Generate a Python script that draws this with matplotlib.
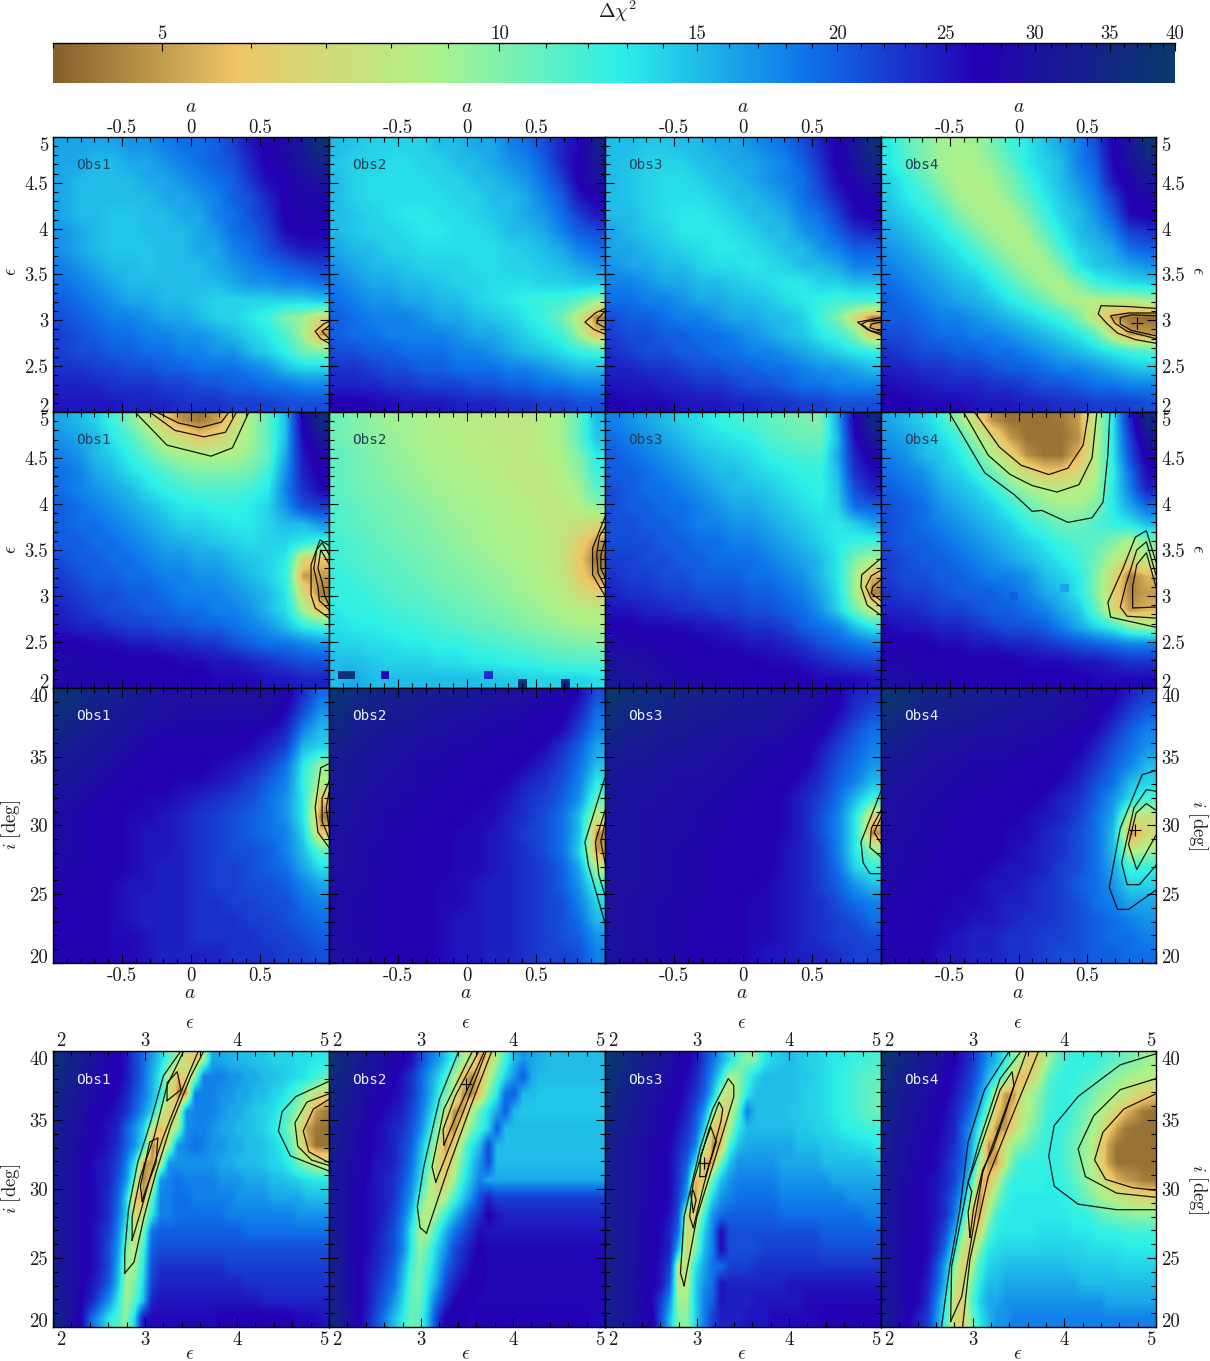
import numpy as np
import matplotlib
matplotlib.use("Agg")
import matplotlib.pyplot as plt
from matplotlib.colors import LinearSegmentedColormap, LogNorm
from matplotlib.cm import ScalarMappable
from matplotlib.ticker import FixedLocator, NullFormatter
import logging
logging.getLogger("matplotlib.mathtext").setLevel(logging.ERROR)

plt.rcParams['mathtext.fontset'] = 'cm'
plt.rcParams['axes.unicode_minus'] = False
plt.rcParams['axes.formatter.use_mathtext'] = True

# Delta chi2, rows from top of panel to bottom
# row 1: a vs epsilon
r1_obs1 = [[16,16,16,16,17,17,18,19,19,20,22,25,27,29,32,37],
[16,16,15,15,16,16,17,18,19,20,21,24,27,28,31,34],
[16,15,15,15,15,16,16,17,18,19,20,23,26,27,29,31],
[16,15,15,15,15,15,16,16,17,18,20,21,24,27,28,28],
[16,15,15,14.5,14.5,15,15,16,16,18,19,21,23,27,28,28],
[17,16,15,14.5,14.5,15,15,15,16,17,19,20,22,26,27,27],
[17,16,15,14.5,14.5,14.5,15,15,16,16,18,19,21,23,25,25],
[18,17,16,15,15,14.5,15,15,15,16,17,18,19,20,21,22],
[19,18,17,16,15,15,15,15,15,15,16,17,17,18,18,19],
[20,19,18,17,16,16,15,15,14.5,14,14,14,14,14,14,14.5],
[21,20,19,18,18,17,16,16,15,14,14,13,12,10,9,7],
[22,21,20,19,19,18,18,17,17,16,15,14,13,11.5,9,5],
[22,21,21,20,20,19,19,18,18,17,17,15,14,12.5,10.5,10],
[23,23,22,22,21,21,20,20,19,19,19,18,17,15,14,14],
[24,24,24,23,23,23,22,22,21,21,20,20,19,19,18,18],
[25,25,25,25,24,24,24,23,23,23,22,22,22,21,21,21]]
r1_obs2 = [[15,14.5,14,14,14,14,15,15,16,16,18,19,21,24,26,33],
[14.5,14,14,13.5,13.5,14,14,15,15,16,17,18,20,24,27,31],
[15,14,13.5,13.5,13.5,13.5,14,14,15,15,16,17,19,22,27,30],
[15,14,13.5,13.5,13.5,13.5,13.5,14,14,15,15,16,18,20,25,27],
[15,14.5,14,13.5,13,13,13.5,13.5,14,14.5,15,16,17,19,22,25],
[15,14.5,14,14,13.5,13,13,13.5,13.5,14,15,15,16,18,20,21],
[16,15,15,14,14,13.5,13.5,13.5,13.5,13.5,14,14.5,15,16,18,19],
[17,16,15,15,14.5,14,14,14,13.5,13.5,14,14,14.5,15,16,17],
[18,17,16,16,15,15,14.5,14,14,13.5,13.5,13.5,14,14,14.5,14.5],
[19,18,17,17,16,16,15,15,14,13.5,13,12.5,12,12,11,9.5],
[20,19,18,18,18,17,16,16,15,14.5,14,13,12,10.5,8,4.5],
[20,19,19,18,18,18,18,17,16,16,15,14,13,12,9,6],
[21,21,20,20,19,19,19,18,18,17,16,15,14.5,13.5,12.5,12],
[23,23,22,21,21,20,20,19,19,19,18,18,17,16,15,15],
[24,24,24,23,23,22,22,22,21,21,20,20,19,19,18,18],
[27,27,26,26,25,25,25,24,24,24,23,23,22,22,21,21]]
r1_obs3 = [[15,15,14.5,14.5,15,15,16,16,17,18,19,21,24,27,31,37],
[15,14.5,14,14,14,15,15,16,16,17,18,20,23,27,30,34],
[15,14.5,14,13.5,13.5,14,15,15,16,17,18,19,22,26,28,31],
[15,14.5,14,13.5,13.5,13.5,14,15,15,16,17,19,21,24,27,28],
[15,15,14,13.5,13,13,13.5,14,15,15,16,18,19,22,26,27],
[16,15,14.5,14,13,13,13,13.5,14,15,15,17,18,20,23,24],
[16,16,15,14.5,14,13.5,13,13,13.5,14,15,15,17,18,20,20],
[17,16,16,15,15,14,13.5,13.5,13,13.5,14,15,15,16,18,18],
[18,18,17,16,16,15,15,14.5,14,13.5,13,13,14,14,15,15],
[19,19,18,18,17,16,16,15,15,14.5,13.5,13,12.5,12,12,12],
[21,20,20,19,18,18,17,16,16,15,15,14,12,10,7,4.5],
[22,21,21,20,20,19,19,18,17,16,15,14.5,13,12,10,6],
[23,22,21,21,20,20,19,19,18,18,17,16,15,14,13,12.5],
[24,24,23,23,22,21,21,20,20,19,19,18,17,17,16,15],
[25,25,25,24,24,23,23,22,21,21,20,19,19,18,18,18],
[27,26,26,26,25,25,25,24,24,23,23,22,22,21,21,21]]
r1_obs4 = [[13,11,10,9,8.8,9,10,12,13,14.5,16,18,21,27,31,37],
[13,11.5,10,9,8.7,8.8,9.5,11,13,14,15,18,20,26,30,34],
[14,12.5,11,9.5,8.7,8.5,9,10,12,13.5,15,17,19,25,28,31],
[14.5,13,12,10.5,9,8.5,8.5,9.5,11,13,14.5,16,18,22,27,28],
[15,14,13,12,10,9,8.5,8.7,10,12,14,15,17,20,26,27],
[16,15,14,13,11.5,10,9,8.5,9,11,13,15,16,18,22,23],
[17,16,15,14,13,11.5,10,9,8.7,9.5,12,14,15,16,19,20],
[18,17,16,15,14,13,11.5,10,9,8.8,10,13,14.5,15,16,17],
[19,18,17,16,15,14.5,13,11.5,10,9,8.7,10,12,13,13.5,14],
[20,19,18,17,16,15.5,14.5,13,12,10.5,9,8.7,8.5,8.5,8.5,9],
[20,20,19,18,18,17,16,15,14,13,12,10,7.5,5,4.3,4.2],
[21,21,20,19,19,18,18,17,16,15,14,13,11,7.5,5,5],
[23,22,21,21,20,20,19,19,18,17,16,15,14,13,12,11.5],
[24,24,23,23,22,22,21,20,20,19,18,18,17,16,15,14.5],
[26,25,25,24,24,24,23,23,22,21,21,20,19,19,18,18],
[27,27,26,26,26,25,25,25,24,24,23,23,22,22,22,21]]

# row 2: a vs epsilon
r2_obs1 = [[16,15,14,12,10,8,6,4.8,4.4,5,6.5,9,11,15,27,36],
[17,16,15,13,11.5,9.5,8,7,6,6.5,8,9,11,15,26,31],
[18,17,15,14,12.5,11,9.5,9,8.5,8.5,8.7,9.5,11,16,25,28],
[19,18,16,15,13.5,12.5,11.5,10.5,10,10,10,10.5,12,17,24,27],
[19,18,17,16,15,13.5,12.5,12,11.5,11.5,11.5,12,13,18,23,26],
[20,19,18,17,16,15,14,13,13,12.5,12.5,13,14,17,21,22],
[20,19,19,18,17,16,15,14,14,13.5,13,13,14,15,15,17],
[20,20,19,19,18,17,16,15.5,15,14.5,14,13.5,14,14,13,12],
[21,20,20,19,19,18,17,17,16,16,15,14.5,14,13,7,6],
[22,21,20,20,19,19,18,18,17,17,16,15,14,12.5,5,5],
[23,22,21,21,20,20,19,18,18,18,17,16,15,13,7,4.5],
[24,23,22,21,21,20,20,19,19,18,18,17,15,13.5,9,6],
[25,24,24,23,22,22,21,21,20,20,19,18,17,15,13,12],
[27,27,26,26,25,25,24,24,23,23,21,20,19,19,18,17],
[29,28,28,27,27,27,27,26,26,25,25,24,23,22,21,21],
[28,28,28,28,27,27,27,27,27,26,26,26,25,25,24,24]]
r2_obs2 = [[10.5,10,9.5,9,9,8.7,8.5,8.3,8.2,8,8,8,8.3,9,11,15],
[10.5,10,9.5,9.3,9,8.8,8.5,8.4,8.2,8,8,8,8.3,9,11,14.5],
[11,10.5,10,9.5,9.2,8.9,8.7,8.5,8.3,8.2,8,8,8.2,8.8,10,13],
[11,10.5,10,9.7,9.4,9,8.9,8.7,8.5,8.3,8,8,8,8.5,9.5,12],
[11,10.5,10.2,10,9.6,9.3,9,8.9,8.7,8.5,8.3,8,8,8.2,9,11],
[11.5,11,10.5,10.2,10,9.6,9.3,9,8.9,8.7,8.5,8.3,8,8,8.5,9.5],
[11.5,11,10.7,10.4,10,9.9,9.5,9.2,9,8.8,8.6,8.4,8.1,7.8,7.5,7],
[12,11.5,11,10.6,10.3,10,9.8,9.4,9.1,8.9,8.7,8.5,8.2,7.7,6.5,5],
[12,11.5,11.2,11,10.6,10.3,10,9.7,9.4,9.1,8.9,8.6,8.2,7.6,6,4.3],
[12.5,12,11.5,11.2,11,10.5,10.2,10,9.7,9.4,9.1,8.8,8.4,7.8,6.3,5],
[12.5,12.5,12,11.5,11.2,11,10.6,10.3,10,9.7,9.3,9,8.7,8.2,7.3,6.5],
[13,12.5,12.5,12,11.7,11.5,11,10.7,10.4,10.1,9.8,9.4,9,8.6,8.3,8],
[13.5,13,13,12.5,12.5,12,11.7,11.4,11,10.8,10.4,10,9.7,9.3,9,8.8],
[14,14,13.5,13.5,13,13,12.5,12.5,12,11.7,11.4,11,10.7,10.4,10.2,10],
[15,15,14.5,14,14,14,13.5,13.5,13,13,12.5,12.5,12,11.7,11.5,11.5],
[15,16,15,15,15,15,15,15,15,14.5,14.5,14,14,14,14,13.5]]
r2_obs3 = [[18,17,16,15,14,13.5,12.5,12,11.5,11,10.5,10.2,10,16,27,35],
[19,18,17,16,15,14,13.5,13,12.5,11.5,11,10.7,10.5,15,26,31],
[20,19,18,17,16,15,14.5,14,13.5,12.5,12,11.7,11.5,16,24,28],
[20,20,19,18,17,16,15,15,14,13.5,13,12.5,12.5,15,23,26],
[21,20,19,19,18,17,16,15,15,14.5,13.5,13,12.5,14.5,21,24],
[21,20,20,19,19,18,17,16,16,15,14.5,13.5,13,14,19,20],
[21,21,20,20,19,18,18,17,17,16,15,14.5,13.5,13,14,16],
[21,21,21,20,20,19,19,18,18,17,16,15,14,13,12.5,12],
[22,22,21,21,20,20,19,19,19,18,17,16,15,13,10,9],
[23,22,22,21,21,20,20,20,19,19,18,17,15,13,9,5.5],
[24,23,23,22,22,21,21,21,20,20,19,18,16,13.5,9,4.5],
[25,25,24,24,23,23,22,22,21,21,20,19,17,14,10.5,8],
[27,27,26,26,26,25,25,24,23,23,22,20,19,18,15,13],
[29,28,28,27,27,27,26,26,25,25,24,23,21,20,19,18],
[30,30,29,28,28,27,27,27,27,26,26,25,24,23,22,22],
[31,30,30,29,28,28,28,27,27,27,27,27,26,26,26,25]]
r2_obs4 = [[16,15,14,12.5,9.5,7,4.8,4.3,4.3,4.3,4.4,5,8.3,13,24,35],
[17,16,15,13.5,12,9,7,5,4.3,4.3,4.3,4.8,8,13,22,31],
[18,17,15,14.5,13,11,8.5,6.5,4.8,4.3,4.3,5.5,8.3,13,21,28],
[19,18,17,15,14,12.5,10.5,8.5,7,6,6,7,8.5,12.5,19,26],
[20,19,18,16,15,14,12.5,10.5,9,8.5,8.3,8.3,9,13,18,24],
[21,20,19,17,16,15,14,12.5,11,9.5,9,9,10,13,16,19],
[21,20,19,18,17,16,15,14,12.5,11.5,10.5,10.5,11.5,12.5,13,15],
[21,20,20,19,18,17,16,15,14,13,12,11.5,11,10,8.5,10],
[22,21,20,20,19,18,17,16,15,14,13,12,10.5,8.5,7,8.5],
[22,21,21,20,20,19,18,18,17,15,14,13,10,7,4.5,5.5],
[23,22,22,21,20,20,20,19,18,16,15,13,10,6.5,4.6,5],
[24,24,23,22,22,21,20,20,19,18,16,14.5,11,7,5,5.5],
[26,25,25,24,24,23,22,21,21,20,18,16,14,12.5,10,9],
[27,27,27,26,26,25,25,24,24,23,22,21,20,19,18,18],
[28,28,27,27,27,27,27,27,26,26,26,25,25,24,23,23],
[30,29,28,28,27,27,27,27,27,27,27,27,26,26,26,26]]

# row 3: a vs i
r3_obs1 = [[38,36,34,33,32,31,30,30,30,30,30,30,30,28,23,19],
[36,35,33,32,31,30,30,29,29,29,29,29,29,26,21,17],
[35,33,32,31,30,29,28,28,28,28,28,27,26,24,18,15],
[33,32,31,30,29,28,27,27,27,27,27,26,24,22,15,14],
[32,31,30,29,28,27,27,27,27,26,25,24,22,19,13,9.5],
[31,30,29,28,27,27,27,26,26,25,24,22,20,18,12.5,8.5],
[30,29,28,27,27,26,26,25,24,23,22,21,19,17,13,6],
[29,28,27,27,26,26,25,24,23,22,21,20,19,17,13,4.5],
[29,28,27,27,26,25,25,24,23,22,21,20,19,18,14,6],
[29,28,27,27,26,25,25,24,23,22,21,21,20,18,15,11],
[28,28,27,27,26,25,24,24,23,22,22,21,20,19,16,13.5],
[28,27,27,26,25,25,24,24,23,22,22,21,21,20,18,16],
[27,27,27,26,25,24,24,24,23,23,22,22,21,21,19,18],
[27,27,27,26,25,24,24,24,23,23,23,22,22,21,20,19],
[27,27,27,26,26,25,24,24,23,23,23,23,22,22,21,20],
[28,27,27,26,26,25,24,24,24,24,23,23,23,22,22,21]]
r3_obs2 = [[38,36,35,33,33,32,32,32,31,30,30,30,29,28,26,21],
[36,34,33,32,32,31,30,30,30,29,29,28,27,27,24,19],
[35,33,32,31,31,30,30,29,29,28,28,27,27,26,22,18],
[33,32,31,30,30,29,29,28,28,27,27,27,26,23,20,16],
[32,31,30,30,29,28,28,28,27,27,27,26,24,22,19,15],
[32,31,30,29,29,28,28,27,27,27,26,24,23,21,18,13],
[31,30,29,29,28,28,27,27,27,26,25,23,22,20,17,11],
[31,30,29,28,28,27,27,27,26,26,24,23,21,19,15,8],
[30,29,29,28,27,27,27,26,26,25,24,22,21,19,15,4.8],
[30,29,28,28,27,27,27,26,26,25,24,23,21,19,14,5],
[30,29,28,28,27,27,27,26,26,25,24,23,22,20,16,8.5],
[29,29,28,27,27,27,26,26,25,24,24,23,22,20,17,12],
[29,28,28,27,27,27,26,26,25,24,24,23,22,21,18,14],
[29,28,28,27,27,27,26,25,25,24,24,23,22,21,19,15],
[29,28,28,27,27,27,26,25,25,24,24,23,22,21,20,17],
[30,29,28,27,27,27,26,25,25,24,24,23,22,22,21,18]]
r3_obs3 = [[39,37,36,35,34,33,33,32,32,31,31,30,29,27,24,23],
[37,35,34,33,33,32,32,31,31,30,30,29,28,26,23,21],
[35,33,33,32,32,31,31,30,30,30,29,28,27,24,21,19],
[33,32,32,31,31,30,30,29,29,28,28,27,25,22,20,18],
[32,31,31,30,30,30,29,29,28,28,27,27,24,21,19,17],
[31,30,30,30,29,29,29,28,28,27,27,25,23,20,18,15],
[31,30,30,29,29,29,28,28,27,27,26,24,22,19,15,12],
[30,30,29,29,29,28,28,27,27,27,26,24,21,18,13,6.5],
[30,30,29,29,29,28,28,27,27,27,26,24,21,18,13,4.7],
[30,30,29,29,28,28,27,27,27,27,25,24,22,18,13,9.5],
[30,30,29,29,28,28,27,27,27,27,25,24,22,19,14,12.5],
[30,30,29,29,28,28,27,27,27,26,25,24,22,20,17,15],
[30,29,29,28,28,28,27,27,26,26,25,24,23,21,19,18],
[30,29,29,28,28,27,27,27,26,26,25,24,23,22,21,19],
[30,29,29,28,28,27,27,27,26,26,25,24,23,22,22,21],
[30,29,29,28,28,27,27,27,26,25,25,24,24,23,22,22]]
r3_obs4 = [[39,37,35,34,33,33,32,32,31,31,30,29,28,27,24,22],
[37,35,33,33,32,32,31,30,30,30,29,29,27,25,22,20],
[35,33,32,31,31,30,30,30,29,29,28,27,26,23,20,18],
[33,32,31,30,30,29,29,29,28,28,27,27,24,21,19,17],
[31,31,30,29,29,28,28,28,27,27,27,25,23,20,18,15],
[31,30,29,29,28,28,28,27,27,27,26,24,21,19,15,14],
[30,29,29,28,28,27,27,27,27,26,24,23,20,17,13.5,11.5],
[30,29,28,28,27,27,27,27,26,25,24,22,19,16,8,7.5],
[29,29,28,28,27,27,27,26,26,24,23,21,19,15,4.6,7],
[29,28,28,27,27,27,27,26,25,24,23,21,19,15,8,9],
[29,28,28,27,27,27,26,25,25,24,22,21,19,16,12,12.5],
[28,28,27,27,27,26,25,25,24,23,22,20,19,17,14,14],
[28,27,27,27,26,26,25,24,24,23,22,21,19,18,16,16],
[27,27,27,26,26,25,25,24,23,23,22,21,20,19,18,17],
[27,27,27,26,25,24,24,23,23,22,22,21,20,19,19,18],
[28,27,27,25,25,24,24,23,23,22,21,21,20,20,19,19]]

# row 4: epsilon vs i, finer in epsilon because of the narrow ridge
r4_obs1 = [[37,35,33,32,30,29,28,27, 25,22,19,16.5,14,11,9,7, 6,8.5,16,16,15.5,15,15,14.5, 14.5,14,14,14,13.5,13.5,13,13],
[36,34,33,31,29,28,27,27, 25,22,19,15.5,12.5,8,5.5,7, 9.5,18,18,18,17,17,16,16, 15,15,14.5,14,13.5,13,12,11],
[35,33,32,30,29,28,27,26, 24,21,18.5,15.5,12.5,8,4.8,5, 18,18,18,17,17,16,16,15, 15,14,13.5,12.5,11,9,7.5,6.5],
[34,32,31,30,28,27,26,25, 23,20,17,14,9,6,7,17, 18,18,18,17,16,16,15,14.5, 14,13.5,12.5,11,9,7,5,4.5],
[33,31,30,29,27,26,25,24, 20,17,14,8,5.5,7,9.5,17, 18,18,17,16,16,15,15,14.5, 14,13,12,10,7.5,5,4.4,4.3],
[33,31,30,28,27,26,25,23, 20,17,13,4.6,6,9,17,18, 19,18,17,17,16,16,15,15, 14.5,14,13,11,8,5.5,4.3,4.3],
[32,30,29,28,26,25,24,22, 18,13,4.8,5,8,17,17,17, 17,17,17,16,16,15,15,15, 14.5,14,13.5,12.5,10.5,9,8,7.5],
[32,30,29,27,26,25,24,21, 17,10,4.6,6,17,18,19,18, 18,18,18,17,17,17,16,16, 16,15,15,14.5,14,13.5,13,13],
[32,30,29,27,26,25,23,20, 14,6,5,11,18,18,19,19, 18,18,18,18,18,17,17,17, 17,16,16,16,16,15,15,15],
[32,30,29,27,26,25,23,19, 14,6.5,8,13,18,18,19,19, 19,19,19,19,18,18,18,18, 18,18,18,18,17,17,17,17],
[32,30,29,27,26,24,22,18, 12,7.5,10,19,20,20,20,20, 20,20,20,20,20,20,19,19, 19,19,19,19,19,19,19,19],
[32,30,29,27,26,24,21,17, 10,8,12,20,21,21,21,21, 21,21,21,21,21,21,21,21, 21,21,21,21,21,21,21,21],
[32,30,29,27,26,24,21,16, 9,9,13,21,23,23,23,23, 23,23,23,23,22,22,22,22, 22,22,22,22,22,22,22,22],
[33,30,29,27,25,23,20,15, 9,10,14,22,24,24,24,24, 24,24,24,24,24,24,23,23, 23,23,23,23,23,23,23,23],
[33,31,29,26,24,20,17,13, 9,11,15,24,25,25,25,25, 25,25,25,25,25,25,25,25, 24,24,24,24,24,24,24,24],
[34,31,29,25,19,16,13,11.5, 9.5,14,25,26,26,26,26,26, 26,26,26,27,27,27,27,27, 27,27,27,27,26,26,26,25]]
r4_obs2 = [[38,35,34,32,31,30,29,28, 27,26,22,19,17,14.5,12,9, 7.5,5.5,6,9,12,15,17,16, 15.5,15,15,15,15,15,15,15],
[36,34,33,31,30,29,28,27, 25,23,20,17,14.5,12,9,6, 4.6,5.5,8,11,14,17,20,16, 15,15,15,15,15,15,15,15],
[35,33,32,30,29,28,27,26, 25,23,20,17,13.5,10.5,8,5, 4.6,6,10,13,19,20,15,15, 14.5,14.5,14.5,14.5,14.5,14.5,14.5,14.5],
[34,32,31,30,28,27,26,25, 24,22,19,15.5,12,8,4.8,5, 8,11,13.5,16,20,15,14.5,14.5, 14.5,14.5,14.5,14.5,14.5,14.5,14.5,14.5],
[33,31,30,29,27,26,25,24, 23,21,18,14,10,6,4.7,7, 10,12,14,20,15,15,15,15, 15,15,15,15,15,15,15,15],
[33,31,30,28,27,26,25,24, 22,20,16,12,8,5,6.5,9.5, 13,15,21,15,15,15,15,15, 15,15,15,15,15,15,15,15],
[32,30,29,28,27,25,25,24, 22,19,15,11,7,5.8,7.5,11, 14,17,21,15,15,15,15,15, 15,15,15,15,15,15,15,15],
[32,30,29,28,26,25,24,23, 21,18,14,9.5,7,6.5,9,12.5, 15,18,16,16,16,16,16,16, 16,16,16,16,16,16,16,16],
[32,30,29,27,26,25,24,23, 20,17,11.5,8.5,7.5,8.5,11.5,14, 17,21,24,22,22,22,22,22, 22,22,22,22,22,22,22,22],
[32,30,29,27,26,25,24,22, 19,15,9.5,8,9.5,12,15,17.5, 21,23,27,25,24,24,24,24, 24,24,24,24,24,24,24,24],
[32,30,29,27,26,25,23,21, 18,13,9,9,12,15.5,18.5,21, 23,26,25,25,25,25,25,25, 25,25,25,25,25,25,25,25],
[33,31,29,27,26,24,23,21, 18,13,9.5,11,14,17,21,23, 25,27,26,26,26,26,26,26, 26,26,26,26,26,26,26,26],
[33,31,29,27,25,24,22,20, 16,12,10,12,15,19,22,24, 26,28,26,26,26,26,26,26, 26,26,26,26,26,26,26,26],
[33,31,29,27,25,23,21,19, 15,11,10,13,16,21,24,26, 27,27,26,26,26,26,26,26, 26,26,26,26,26,26,26,26],
[34,31,29,27,25,22,20,17, 14,11,10.5,14,19,23,26,28, 27,26,26,26,26,26,26,26, 26,26,26,26,26,26,26,26],
[35,32,29,27,24,21,18,15, 13,10.5,11,15,22,27,28,27, 26,27,27,27,27,27,27,27, 27,27,27,27,27,27,26,26]]
r4_obs3 = [[39,37,36,34,33,32,31,30, 28,27,25,22,19,16,13.5,11, 9.5,10,13,14,14.5,15,14.5,14, 14,13.5,13,13,12.5,12,12,11.5],
[38,36,34,33,32,31,30,29, 27,26,24,21,17,13,8.5,9.5, 12,14,15,15,15,15,14.5,14.5, 14,13.5,13,12.5,12,11.5,11,11],
[37,35,33,32,31,30,29,28, 27,25,23,20,15,9,7,9.5, 13,15,15,15,15,15,14.5,14, 14,13.5,13,12.5,12,11.5,11,10.5],
[35,34,33,31,30,29,28,27, 26,24,21,17,10,6,7.5,11, 18,15,15,15,15,14.5,14.5,14, 14,13.5,13,12.5,12,11.5,11,10.5],
[34,33,32,31,30,29,28,27, 25,23,20,14,6,5.5,9,13, 15,15,15,15,15,15,14.5,14.5, 14,14,13.5,13,12.5,12.5,12,12],
[33,32,31,30,29,28,27,26, 24,22,18,9,4.6,6,12,15, 16,16,16,16,16,16,15,15, 15,14.5,14.5,14,14,13.5,13.5,13],
[33,32,31,30,29,28,27,26, 23,20,13,4.8,5.5,11,15,17, 17,17,17,17,16,16,16,16, 16,15,15,15,15,15,15,14.5],
[33,32,31,30,29,28,27,26, 23,18,5.5,6,11,15,17,18, 18,18,18,18,17,17,17,17, 17,17,16,16,16,16,16,16],
[33,32,31,30,29,27,27,26, 22,16,4.8,9,14,17,18,19, 19,19,19,19,18,18,18,18, 18,18,18,18,17,17,17,17],
[33,32,31,30,28,27,27,25, 21,7,6.5,12,17,19,20,20, 20,20,20,20,19,19,19,19, 19,19,19,19,19,19,18,18],
[33,32,31,30,28,27,26,24, 19,6.5,9,14,18,26,21,21, 21,21,21,21,21,21,21,21, 21,20,20,20,20,20,20,20],
[33,32,31,30,28,27,26,24, 15,6.5,10,15,18,26,21,21, 21,21,22,22,22,22,22,22, 22,21,21,21,21,21,21,21],
[33,32,31,30,28,27,25,22, 7.5,7.5,13,16,19,19,22,22, 22,23,23,23,23,23,23,23, 23,23,23,23,23,23,23,23],
[33,32,31,29,28,27,25,20, 8,8,14,17,19,25,24,24, 24,24,24,24,24,25,25,25, 25,25,25,25,25,25,25,25],
[33,32,31,30,28,26,22,17, 9,9,14,18,20,25,24,24, 24,25,25,25,25,25,25,26, 26,26,26,26,26,26,26,26],
[33,32,31,29,28,27,21,15, 10,9.5,14,18,22,24,24,24, 25,25,25,26,26,26,26,26, 26,27,27,27,27,27,27,27]]
r4_obs4 = [[39,36,35,33,32,31,30,28, 27,25,23,20,17,15,12.5,10, 7.5,6,7,9,11,12,12.5,12.5, 12.5,12,11.5,11,10.5,10,9.5,9],
[37,35,33,32,31,30,29,27, 26,24,22,19,15,13,10,6.5, 5.5,6.5,8.5,11,12,12.5,12.5,12, 11.5,11,10,9.5,9,8.7,8.5,8.3],
[35,34,32,31,30,29,28,27, 25,23,21,17,13,7,5,5, 7.5,9,10,11.5,12.5,12.5,12,11.5, 10.5,9.5,9,8.5,8,7,6.5,6],
[34,33,31,30,29,28,27,26, 24,22,19,15,10,6,4.7,6, 8,9,10.5,12,12.5,12.5,11.5,10.5, 9.5,8.7,8,6.5,5.5,5,4.4,4.3],
[33,32,31,30,29,28,27,25, 24,20,17,12,7,4.7,5,7, 8.5,10,11,12.5,12.5,12,11,10, 9,8,6,5,4.4,4.3,4.3,4.3],
[33,31,30,29,28,27,26,25, 23,20,16,10,4.8,5.5,7.5,9.5, 10,11,12,12.5,12.5,11.5,10.5,9.5, 8.5,6.5,5,4.3,4.3,4.3,4.3,4.3],
[32,31,30,29,28,27,26,24, 22,20,15,9,5,5,8,11, 12.5,12.5,12.5,12.5,12.5,11.5,10.5,9.5, 8.5,6.5,5,4.3,4.3,4.3,4.3,4.3],
[32,31,29,28,27,26,25,24, 22,18,13,5.5,5.5,8,11,12.5, 12.5,12.5,12.5,13,12.5,12,11,10, 9,8,6.5,5.5,5,4.8,4.5,4.4],
[32,30,29,28,27,26,25,23, 20,16,9,4.8,7,10,12,13, 13,13,13,13,13,12.5,12,11, 10,9,8.5,8,7.5,7,6.5,6.5],
[32,30,29,28,27,26,25,23, 19,13,6,5,9,12,13,13, 13,13,13,13,13,13,12.5,12.5, 12,11,10.5,10,10,9.5,9.5,9.5],
[31,30,29,28,27,26,24,21, 16,10,6,7,11,13,13,13, 13,13,13.5,13.5,13.5,13.5,13,13, 13,12.5,12.5,12.5,12,12,12,12],
[31,30,29,27,27,26,23,19, 13,7.5,6.5,10,13,13.5,14,14, 14,14,14,14,14,14,14,14, 13.5,13.5,13.5,13.5,13,13,13,13],
[31,30,29,27,27,25,21,16, 10,6.5,8,12,14,14.5,15,15, 15,15,15,15,15,15,14.5,14.5, 14.5,14.5,14.5,14,14,14,14,14],
[31,30,29,27,26,24,20,15, 8,6.5,10,13,15,15,16,16, 16,16,16,16,16,16,16,15, 15,15,15,15,15,15,15,15],
[31,30,29,27,26,23,18,13, 7.5,6.5,11,14,16,16,17,17, 17,17,17,17,17,17,17,17, 17,17,16,16,16,16,16,16],
[33,30,28,26,24,22,17,12, 7.5,6,10,13,15,17,17,18, 18,18,18,18,18,18,18,18, 18,18,18,18,18,18,18,18]]

# isolated odd cells: a from, a to, eps from, eps to, value
r2_obs2_odd = [(-.935,-.81,2.098,2.185,37),(-.623,-.565,2.098,2.185,26),(.123,.188,2.098,2.185,23),
               (.37,.435,2.0,2.095,38),(.68,.746,2.0,2.095,33)]
r2_obs4_odd = [(-.065,-.007,2.956,3.04,20),(.304,.37,3.04,3.13,16)]

# contour lines
r1_cont = [
 [[(1,2.99),(.96,2.96),(.90,2.88),(.94,2.8),(1,2.75)],[(1,2.94),(.95,2.88),(1,2.8)]],
 [[(1,3.13),(.93,3.08),(.855,2.98),(.92,2.9),(1,2.85)],[(1,3.1),(.95,3.02),(.94,2.97),(1,2.92)]],
 [[(1,3.03),(.9,3.0),(.83,2.98),(.9,2.9),(1,2.84)],[(1,3.0),(.9,2.99),(.86,2.96),(.92,2.89),(1,2.86)],[(1,2.98),(.93,2.96),(.92,2.92),(1,2.88)]],
 [[(1,3.13),(.8,3.15),(.6,3.16),(.58,3.07),(.64,2.97),(.72,2.86),(.85,2.79),(1,2.75)],
  [(1,3.08),(.8,3.08),(.67,3.05),(.70,2.97),(.79,2.88),(1,2.8)],
  [(1,3.05),(.82,3.06),(.74,3.03),(.74,2.96),(.82,2.89),(1,2.83)]]]
r2_cont = [
 [[(-.406,5),(-.174,4.64),(.145,4.52),(.30,4.61),(.42,5)],[(-.30,5),(-.116,4.80),(.094,4.73),(.25,4.78),(.33,5)],
  [(-.25,5),(-.09,4.88),(.065,4.83),(.22,4.89),(.275,5)],
  [(1,3.55),(.935,3.61),(.87,3.34),(.87,3.01),(.90,2.87),(1,2.76)],
  [(1,3.45),(.95,3.58),(.91,3.5),(.89,3.3),(.92,3.1),(.93,2.95),(1,2.85)],
  [(1,3.35),(.94,3.5),(.92,3.3),(.95,3.15),(.97,3.0),(1,2.9)]],
 [[(1,3.86),(.91,3.52),(.91,3.23),(1,3.0)],[(1,3.75),(.96,3.65),(.94,3.45),(.95,3.25),(1,3.1)],[(1,3.6),(.97,3.45),(.97,3.3),(1,3.2)]],
 [[(1,3.41),(.86,3.23),(.855,3.1),(.90,2.9),(1,2.79)],[(1,3.28),(.93,3.22),(.89,3.1),(.93,2.97),(1,2.88)],[(1,3.18),(.94,3.1),(.93,3.03),(1,2.95)]],
 [[(-.507,5),(-.246,4.34),(-.03,4.10),(.10,3.92),(.17,3.93),(.36,3.8),(.535,3.85),(.615,4.02),(.65,4.53),(.665,5)],
  [(-.40,5),(-.22,4.53),(-.06,4.32),(.10,4.2),(.28,4.13),(.44,4.21),(.535,4.5),(.57,5)],
  [(-.32,5),(-.14,4.62),(.02,4.42),(.22,4.32),(.36,4.39),(.47,4.64),(.51,5)],
  [(1,3.37),(.93,3.71),(.85,3.64),(.76,3.3),(.65,2.93),(.67,2.77),(1,2.66)],
  [(1,3.23),(.93,3.59),(.86,3.5),(.78,3.12),(.74,2.88),(.79,2.78),(1,2.76)],
  [(1,3.1),(.93,3.47),(.86,3.34),(.83,3.1),(.83,2.87),(1,2.88)]]]
r3_cont = [
 [[(1,34.5),(.94,34.2),(.90,31.3),(.92,29.5),(1,28.4)],[(1,33.2),(.95,32),(.95,30.3),(1,29.1)],[(1,32.4),(.98,31.3),(1,29.9)]],
 [[(1,33.5),(.855,28.8),(.88,27.1),(1,22.9)],[(1,31.1),(.93,28.8),(.955,26.4),(1,24.9)],[(1,30.2),(.97,28.8),(1,27.3)]],
 [[(1,32.5),(.855,28.8),(.87,27.3),(.92,26.5),(1,26.5)],[(1,31.1),(.93,29.8),(.92,28.4),(1,27.7)],[(1,30.6),(.95,29.5),(1,28.7)]],
 [[(1,34),(.90,33.7),(.74,29.8),(.66,25.5),(.72,23.9),(.80,23.9),(1,25.3)],
  [(1,32.5),(.93,32.6),(.84,31.3),(.75,27.3),(.79,25.7),(.88,25.7),(1,27.1)],
  [(1,31.1),(.93,31.6),(.855,30.9),(.80,28.6),(.86,26.8),(1,29.3)]]]
r4_cont = [
 [[(2.78,23.9),(2.78,25.4),(2.82,28.5),(2.92,31.9),(3.05,34.6),(3.2,38.2),(3.39,40),(3.64,40),(3.5,38.2),(3.28,34.6),(3.12,31.2),(2.99,28),(2.88,24.7),(2.78,23.9)],
  [(2.86,26.3),(2.86,28),(2.95,30.9),(3.1,33.8),(3.24,37.5),(3.42,40),(3.58,40),(3.39,37),(3.2,33.8),(3.07,31.2),(2.95,28.3),(2.86,26.3)],
  [(2.97,29.1),(2.95,30.2),(3.05,33.4),(3.14,33.7),(3.12,31.9),(3.01,30),(2.97,29.1)],
  [(3.24,36.4),(3.24,37.7),(3.35,38.5),(3.39,37.2),(3.24,36.4)],
  [(5,37.8),(4.64,36.7),(4.49,35.6),(4.45,34.2),(4.58,32.4),(5,31.3)],
  [(5,36.9),(4.76,36.3),(4.63,34.8),(4.66,33.1),(4.81,32.1),(5,31.7)],
  [(5,36.5),(4.83,35.8),(4.72,34.2),(4.78,32.7),(5,31.9)]],
 [[(3.06,26.8),(2.99,27.2),(2.96,28.7),(3.03,31.6),(3.2,36.5),(3.41,40),(3.77,40),(3.54,36),(3.29,31.4),(3.06,26.8)],
  [(3.16,30.5),(3.12,31.6),(3.25,35.8),(3.56,40),(3.71,40),(3.46,35.6),(3.16,30.5)],
  [(3.25,33.2),(3.24,34.3),(3.37,36.7),(3.63,40),(3.69,40),(3.41,35.8),(3.25,33.2)]],
 [[(2.86,23),(2.82,23.9),(2.86,28),(3.04,33.1),(3.17,35.8),(3.34,38),(3.4,37.5),(3.4,36.7),(3.26,33.6),(3.0,28),(2.86,23)],
  [(2.96,27.2),(2.92,28),(2.96,30.5),(3.13,34.3),(3.24,36.3),(3.28,35.8),(3.26,34.9),(3.07,30.2),(2.96,27.2)],
  [(2.96,28.3),(2.93,29.8),(2.96,29.9),(2.99,29.2),(2.96,28.3)],
  [(3.03,30.9),(3.04,32.4),(3.15,34.5),(3.21,33.4),(3.09,30.9),(3.03,30.9)]],
 [[(2.66,20),(2.75,24.4),(2.86,28.5),(2.95,33.4),(3.13,37.2),(3.4,40)],[(3.72,40),(3.42,35.1),(3.17,30.9),(2.97,24.9),(2.89,20)],
  [(2.76,20.4),(2.77,24.4),(2.9,28.7),(2.95,30.5),(3.07,33.4),(3.3,38),(3.53,40)],[(3.59,40),(3.35,35.6),(3.11,31.2),(2.88,22.2),(2.76,20.4)],
  [(2.97,26.5),(2.95,28.3),(2.99,29.8),(2.95,30.5),(3.07,32.7),(3.3,37.2),(3.43,38.5),(3.45,37.5),(3.37,35.8),(3.22,32.9),(3.11,31.4),(3.01,28.6),(2.97,26.5)],
  [(5,39.8),(4.61,39),(4.15,36.7),(3.89,34.6),(3.83,32.4),(3.89,30.2),(4.15,28.9),(4.57,28.5),(5,28.5)],
  [(5,38),(4.61,37.2),(4.32,35.3),(4.15,32.9),(4.23,30.9),(4.57,29.7),(5,29.4)],
  [(5,36.9),(4.65,35.8),(4.42,34.1),(4.33,32.1),(4.45,30.7),(4.74,30.1),(5,29.9)]]]

# best-fit crosses: row index, obs index, x, y
crosses = [(0,3,.862,2.97),(2,3,.85,29.7),(3,1,3.49,37.6),(3,2,3.08,31.85)]

cb_major = [5,10,15,20,25,30,35,40]
cb_minor = [4,6,7,8,9,11,12,13,14,16,17,18,19,21,22,23,24,26,27,28,29,31,32,33,34,36,37,38,39]
a_ticks = [-0.5,0,0.5]
a_labels = ['-0.5','0','0.5']
eps_y_ticks = [2,2.5,3,3.5,4,4.5,5]
eps_y_labels = ['2','2.5','3','3.5','4','4.5','5']
eps_x_ticks = [2,3,4,5]
inc_ticks = [20,25,30,35,40]
obs_names = ['Obs1','Obs2','Obs3','Obs4']

W, H = 1210, 1361
cmap = LinearSegmentedColormap.from_list('dchi', [(0,'#85602B'),(.162,'#EFC566'),(.337,'#AEF28A'),
    (.505,'#2DF0E8'),(.671,'#0E74EA'),(.825,'#2400B4'),(1,'#083A6C')], N=256)
norm = LogNorm(vmin=4, vmax=40)
TICKFONT = dict(family='cmr10', fontsize=13.5, color='#1a1a1a')
LABCOL = '#1a1a1a'


def px_axes(x0, y0, x1, y1):
    return fig.add_axes([x0/W, 1-y1/H, (x1-x0)/W, (y1-y0)/H])


def draw_panel(ax, data, extent, conts, odd=None):
    ax.imshow(np.array(data, dtype=float), extent=extent, origin='upper', aspect='auto', cmap=cmap, norm=norm,
              interpolation='bilinear', interpolation_stage='data')
    if odd:
        for a0, a1, e0, e1, v in odd:
            ax.pcolormesh([a0, a1], [e0, e1], [[v]], cmap=cmap, norm=norm)
    for line in conts:
        xy = np.array(line)
        ax.plot(xy[:, 0], xy[:, 1], color='k', lw=0.9, alpha=0.9)
    ax.set_xlim(extent[0], extent[1])
    ax.set_ylim(extent[2], extent[3])
    for s in ax.spines.values():
        s.set_linewidth(1.0)


def set_ticks(ax, xmajor, xminor, ymajor, yminor):
    ax.xaxis.set_major_locator(FixedLocator(xmajor))
    ax.xaxis.set_minor_locator(FixedLocator(xminor))
    ax.yaxis.set_major_locator(FixedLocator(ymajor))
    ax.yaxis.set_minor_locator(FixedLocator(yminor))
    ax.xaxis.set_major_formatter(NullFormatter())
    ax.yaxis.set_major_formatter(NullFormatter())
    ax.tick_params(which='major', direction='in', length=6.5, width=0.8, top=True, right=True, bottom=True, left=True)
    ax.tick_params(which='minor', direction='in', length=3.6, width=0.8, top=True, right=True, bottom=True, left=True)


def put_y_labels(ax, ticks, labels, side):
    lo, hi = ticks[0], ticks[-1]
    for t, s in zip(ticks, labels):
        va = 'top' if t == hi else 'bottom' if t == lo else 'center'
        x = -5/276 if side == 'left' else 1+5/276
        ha = 'right' if side == 'left' else 'left'
        dy = 0 if t == hi else -4/276 if t == lo else -2/276
        ax.text(x, (t-lo)/(hi-lo)+dy, s, ha=ha, va=va, transform=ax.transAxes, **TICKFONT)


def put_x_labels(ax, ticks, labels, lo, hi, side, shift_ends=False):
    for t, s in zip(ticks, labels):
        ha = 'center'
        if shift_ends and t == lo:
            ha = 'left'
        if shift_ends and t == hi:
            ha = 'right'
        dx = 3/276 if (shift_ends and t == lo) else -1/276 if (shift_ends and t == hi) else 0
        y = 1+0.5/276 if side == 'top' else -4/276
        va = 'bottom' if side == 'top' else 'top'
        ax.text((t-lo)/(hi-lo)+dx, y, s, ha=ha, va=va, transform=ax.transAxes, **TICKFONT)


fig = plt.figure(figsize=(W/100, H/100), dpi=100)

xs = [53, 329, 605, 881]
rows = [(137, 412), (412, 688), (688, 963), (1051, 1327)]
row_data = [[r1_obs1, r1_obs2, r1_obs3, r1_obs4], [r2_obs1, r2_obs2, r2_obs3, r2_obs4],
            [r3_obs1, r3_obs2, r3_obs3, r3_obs4], [r4_obs1, r4_obs2, r4_obs3, r4_obs4]]
row_cont = [r1_cont, r2_cont, r3_cont, r4_cont]
extents = [(-1, 1, 2, 5), (-1, 1, 2, 5), (-1, 1, 20, 40), (2, 5, 20, 40)]
a_minor = [round(-1+0.1*k, 1) for k in range(21)]
eps_minor_y = [round(2+0.1*k, 1) for k in range(31)]
eps_minor_x = [round(2+0.2*k, 1) for k in range(16)]
inc_minor = list(range(20, 41))

for r, (y0, y1) in enumerate(rows):
    for c, x0 in enumerate(xs):
        ax = px_axes(x0, y0, x0+276 if c < 3 else 1156, y1)
        odd = r2_obs2_odd if (r, c) == (1, 1) else r2_obs4_odd if (r, c) == (1, 3) else None
        draw_panel(ax, row_data[r][c], extents[r], row_cont[r][c], odd)
        if r < 2:
            set_ticks(ax, [-1]+a_ticks+[1], a_minor, eps_y_ticks, eps_minor_y)
        elif r == 2:
            set_ticks(ax, [-1]+a_ticks+[1], a_minor, inc_ticks, inc_minor)
        else:
            set_ticks(ax, eps_x_ticks, eps_minor_x, inc_ticks, inc_minor)
        for m in crosses:
            if m[0] == r and m[1] == c:
                ax.plot(m[2], m[3], marker='+', color='k', ms=9, mew=0.8)
        txt_col = '#24425c' if r < 2 else '#e8eef5'
        ax.text(23/276, 1-28.5/276, obs_names[c], color=txt_col, family='DejaVu Sans Mono', fontsize=10.3,
                ha='left', va='center', transform=ax.transAxes)
        if c == 0:
            if r < 2:
                put_y_labels(ax, eps_y_ticks, eps_y_labels, 'left')
            else:
                put_y_labels(ax, inc_ticks, [str(t) for t in inc_ticks], 'left')
        if c == 3:
            if r < 2:
                put_y_labels(ax, eps_y_ticks, eps_y_labels, 'right')
            else:
                put_y_labels(ax, inc_ticks, [str(t) for t in inc_ticks], 'right')
        if r == 0:
            put_x_labels(ax, a_ticks, a_labels, -1, 1, 'top')
            fig.text((x0+138)/W, 1-107/H, r'$a$', ha='center', va='center', fontsize=14, color=LABCOL)
        if r == 2:
            put_x_labels(ax, a_ticks, a_labels, -1, 1, 'bottom')
            fig.text((x0+137)/W, 1-992/H, r'$a$', ha='center', va='center', fontsize=14, color=LABCOL)
        if r == 3:
            put_x_labels(ax, eps_x_ticks, [str(t) for t in eps_x_ticks], 2, 5, 'top', True)
            put_x_labels(ax, eps_x_ticks, [str(t) for t in eps_x_ticks], 2, 5, 'bottom', True)
            fig.text((x0+137)/W, 1-1023/H, r'$\epsilon$', ha='center', va='center', fontsize=14, color=LABCOL)
            fig.text((x0+137)/W, 1-1354/H, r'$\epsilon$', ha='center', va='center', fontsize=14, color=LABCOL)

for yc, lab in [(271, r'$\epsilon$'), (549, r'$\epsilon$'), (825, r'$i\ \mathrm{[deg]}$'), (1189, r'$i\ \mathrm{[deg]}$')]:
    fig.text(11/W, 1-yc/H, lab, rotation=90, ha='center', va='center', fontsize=13.5, color=LABCOL)
    fig.text(1198/W, 1-yc/H, lab, rotation=-90, ha='center', va='center', fontsize=13.5, color=LABCOL)

# colour bar
cax = px_axes(53, 43, 1175, 83)
cb = fig.colorbar(ScalarMappable(norm=norm, cmap=cmap), cax=cax, orientation='horizontal')
cb.outline.set_visible(False)
cb.ax.xaxis.set_major_locator(FixedLocator(cb_major))
cb.ax.xaxis.set_minor_locator(FixedLocator(cb_minor))
cb.ax.xaxis.set_major_formatter(NullFormatter())
cb.ax.xaxis.set_minor_formatter(NullFormatter())
cb.ax.tick_params(which='major', direction='in', length=6, width=0.8, top=True, bottom=False, labeltop=False, labelbottom=False)
cb.ax.tick_params(which='minor', direction='in', length=3.5, width=0.8, top=True, bottom=False)
cax.spines['top'].set_visible(True)
cax.spines['top'].set_linewidth(1.0)
for t in cb_major:
    cax.text(np.log10(t/4), 1, str(t), ha='center', va='bottom', transform=cax.transAxes, **TICKFONT)
fig.text(618/W, 1-11/H, r'$\Delta\chi^2$', ha='center', va='center', fontsize=14.5, color=LABCOL)

fig.savefig('out.png', dpi=100)
